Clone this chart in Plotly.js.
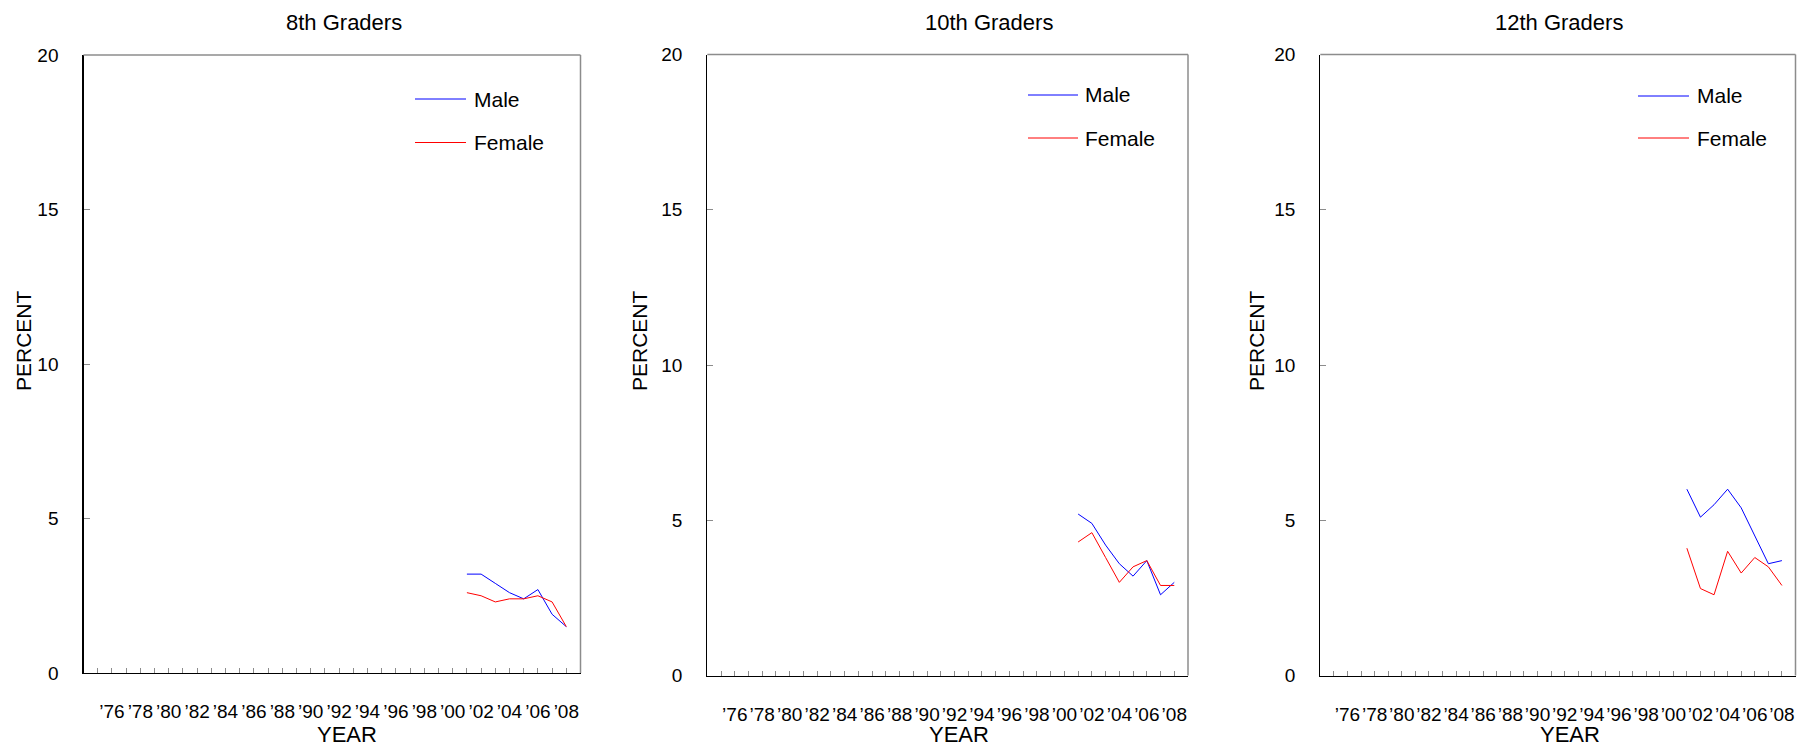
<!DOCTYPE html>
<html>
<head>
<meta charset="utf-8">
<script src="https://cdn.plot.ly/plotly-3.0.1.min.js"></script>
<style>html,body{margin:0;padding:0;background:#fff;}#chart{width:1799px;height:749px;}</style>
</head>
<body>
<div id="chart"></div>
<script>
// ---- data ----
const years = [2001, 2002, 2003, 2004, 2005, 2006, 2007, 2008];
const grade8Male   = [3.2, 3.2, 2.9, 2.6, 2.4, 2.7, 1.9, 1.5];
const grade8Female = [2.6, 2.5, 2.3, 2.4, 2.4, 2.5, 2.3, 1.5];
const grade10Male   = [5.2, 4.9, 4.2, 3.6, 3.2, 3.7, 2.6, 3.0];
const grade10Female = [4.3, 4.6, 3.8, 3.0, 3.5, 3.7, 2.9, 2.9];
const grade12Male   = [6.0, 5.1, 5.5, 6.0, 5.4, 4.5, 3.6, 3.7];
const grade12Female = [4.1, 2.8, 2.6, 4.0, 3.3, 3.8, 3.5, 2.9];
const panelTitles = ["8th Graders", "10th Graders", "12th Graders"];
const seriesNames = ["Male", "Female"];
const seriesColors = ["#0000ff", "#ff0000"];
const tickYears = [];   // every year from 1975 to 2009
for (let y = 1975; y <= 2009; y++) tickYears.push(y);
const labelYears = [1976,1978,1980,1982,1984,1986,1988,1990,1992,1994,1996,1998,2000,2002,2004,2006,2008];
const labelTexts = ["’76","’78","’80","’82","’84","’86","’88","’90","’92","’94","’96","’98","’00","’02","’04","’06","’08"];
const yTicks = [0, 5, 10, 15, 20];
const xTitle = "YEAR";
const yTitle = "PERCENT";

// ---- layout helpers ----
const W = 1799, H = 749;
const px = v => v / W;
const py = v => 1 - v / H;
const FONT = "Liberation Sans, Arial, sans-serif";

const panels = [
  {male: grade8Male, female: grade8Female, x0: 83.5, x1: 580.5, top: 55, bottom: 673,
   titleX: 344, pctX: 23, yearX: 347, legLine: [415, 466], legText: 472, legY: [99, 142.5]},
  {male: grade10Male, female: grade10Female, x0: 707.3, x1: 1188, top: 54.5, bottom: 675.5,
   titleX: 989, pctX: 639, yearX: 958.5, legLine: [1028, 1078], legText: 1083, legY: [95, 138]},
  {male: grade12Male, female: grade12Female, x0: 1320.3, x1: 1795.5, top: 54.5, bottom: 675.5,
   titleX: 1559, pctX: 1256, yearX: 1570, legLine: [1638, 1689], legText: 1695, legY: [96, 138]}
];

const tickText = tickYears.map(y => {
  const i = labelYears.indexOf(y);
  return i >= 0 ? labelTexts[i] : "";
});

const data = [];
const layout = {
  width: W, height: H,
  margin: {l: 0, r: 0, t: 0, b: 0},
  paper_bgcolor: "#ffffff", plot_bgcolor: "#ffffff",
  showlegend: false,
  font: {family: FONT, color: "#000000", size: 19},
  shapes: [], annotations: []
};

panels.forEach((p, k) => {
  const n = k === 0 ? "" : String(k + 1);
  const xa = "x" + n, ya = "y" + n;
  [p.male, p.female].forEach((vals, s) => {
    data.push({
      type: "scatter", mode: "lines", x: years, y: vals, name: seriesNames[s],
      xaxis: xa, yaxis: ya, line: {color: seriesColors[s], width: 1}, hoverinfo: "x+y+name"
    });
  });
  layout["xaxis" + n] = {
    domain: [px(p.x0), px(p.x1)], anchor: ya, range: [1974, 2009], fixedrange: true,
    tickmode: "array", tickvals: tickYears, ticktext: tickText, tickangle: 0,
    ticks: "inside", ticklen: 5, tickwidth: 1, tickcolor: "#8c8c8c",
    showline: true, linecolor: "#000000", linewidth: 1.2, showgrid: false, zeroline: false,
    tickfont: {family: FONT, size: 19, color: "#000000"}, ticklabelstandoff: 21
  };
  layout["yaxis" + n] = {
    domain: [py(p.bottom), py(p.top)], anchor: xa, range: [0, 20], fixedrange: true,
    tickmode: "array", tickvals: yTicks, ticktext: yTicks.map(String), tickangle: 0,
    ticks: "inside", ticklen: 6, tickwidth: 1, tickcolor: "#8c8c8c",
    showline: true, linecolor: "#000000", linewidth: 1.2, showgrid: false, zeroline: false,
    tickfont: {family: FONT, size: 19, color: "#000000"}, ticklabelstandoff: 20
  };
  // grey top and right frame
  layout.shapes.push({type: "line", xref: xa + " domain", yref: ya + " domain", x0: 0, x1: 1, y0: 1, y1: 1,
    line: {color: "#8c8c8c", width: 1.5}});
  layout.shapes.push({type: "line", xref: xa + " domain", yref: ya + " domain", x0: 1, x1: 1, y0: 0, y1: 1,
    line: {color: "#8c8c8c", width: 1.5}});
  // panel title
  layout.annotations.push({xref: "paper", yref: "paper", x: px(p.titleX), y: py(22), xanchor: "center", yanchor: "middle",
    showarrow: false, text: panelTitles[k], font: {family: FONT, size: 22, color: "#000"}});
  // axis titles
  layout.annotations.push({xref: "paper", yref: "paper", x: px(p.pctX), y: py(341), xanchor: "center", yanchor: "middle",
    showarrow: false, text: yTitle, textangle: -90, font: {family: FONT, size: 21, color: "#000"}});
  layout.annotations.push({xref: "paper", yref: "paper", x: px(p.yearX), y: py(734), xanchor: "center", yanchor: "middle",
    showarrow: false, text: xTitle, font: {family: FONT, size: 22, color: "#000"}});
  // legend
  seriesNames.forEach((name, s) => {
    layout.shapes.push({type: "line", xref: "paper", yref: "paper",
      x0: px(p.legLine[0]), x1: px(p.legLine[1]), y0: py(p.legY[s]), y1: py(p.legY[s]),
      line: {color: seriesColors[s], width: 1}});
    layout.annotations.push({xref: "paper", yref: "paper", x: px(p.legText), y: py(p.legY[s]),
      xanchor: "left", yanchor: "middle", showarrow: false, text: name,
      font: {family: FONT, size: 21, color: "#000"}});
  });
});

Plotly.newPlot("chart", data, layout, {displayModeBar: false, staticPlot: true});
</script>
</body>
</html>
